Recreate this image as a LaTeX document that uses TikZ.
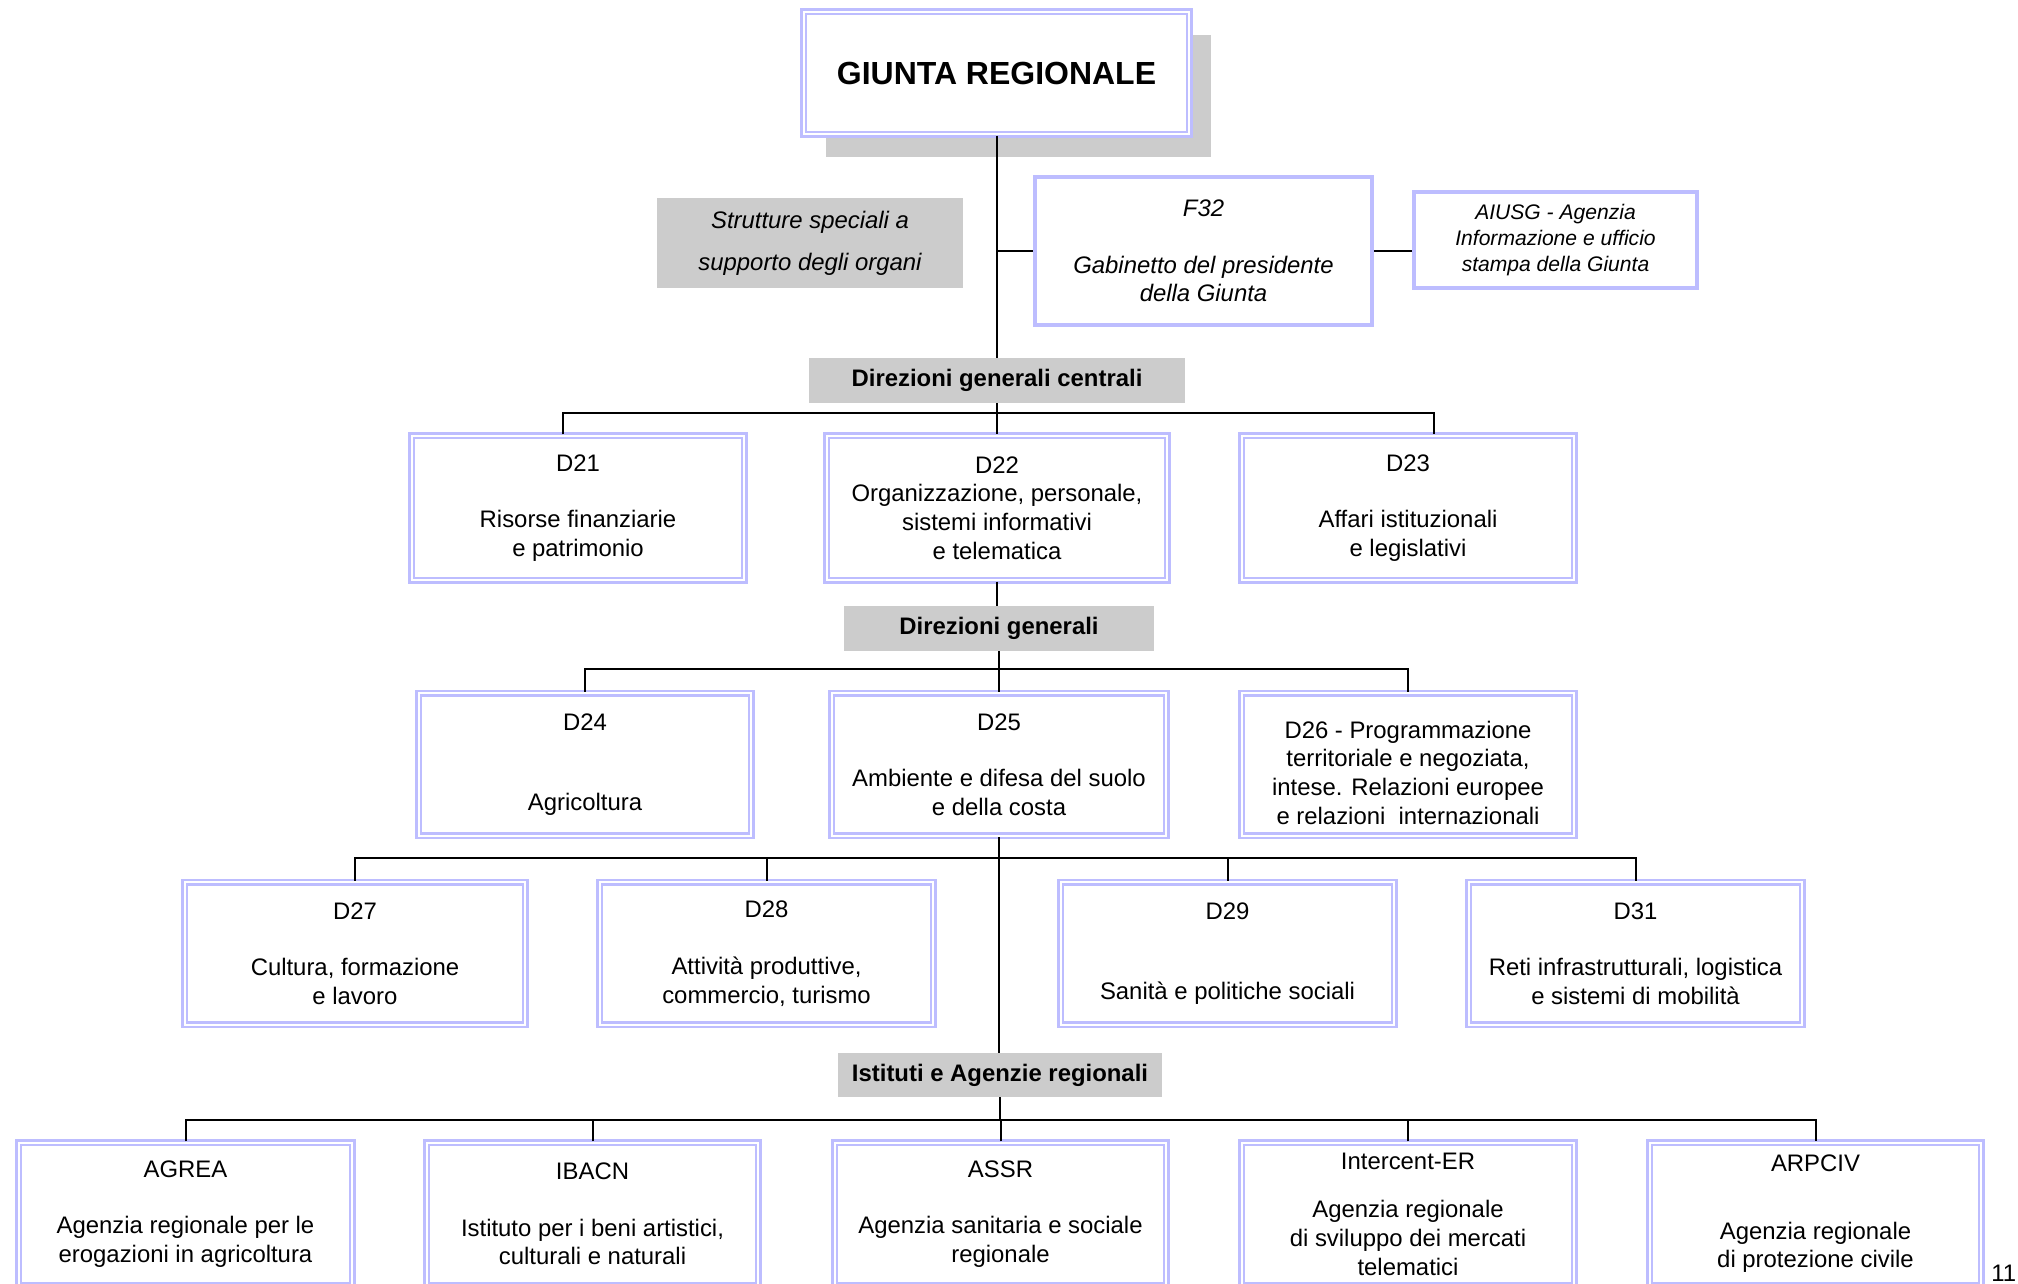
\documentclass[tikz,border=0pt]{standalone}
\usepackage{fontspec}
\setmainfont{Liberation Sans}
\usepackage{xcolor}
\usepackage{tikz}
\usetikzlibrary{positioning, calc, shadows}
\definecolor{boxline}{RGB}{189,189,255}
\definecolor{labelgray}{RGB}{204,204,204}
\definecolor{shadowgray}{RGB}{204,204,204}
\newcommand{\gap}{16pt}
\tikzset{
  orgbox/.style={
    draw=boxline, double=white, line width=0.05cm, double distance=0.04cm,
    fill=white, align=center, inner sep=0pt, minimum width=6.66cm,
    minimum height=2.86cm, font=\fontsize{13.6}{16.3}\selectfont
  },
  topbox/.style={
    orgbox, minimum width=7.72cm, minimum height=2.46cm,
    font=\fontsize{18.2}{21}\selectfont\bfseries,
    drop shadow={shadow xshift=0.44cm, shadow yshift=-0.46cm, fill=shadowgray, opacity=1}
  },
  staffbox/.style={
    draw=boxline, line width=0.07cm, fill=white, align=center, inner sep=0pt,
    font=\fontsize{13.6}{16.3}\selectfont\itshape
  },
  grouplabel/.style={
    fill=labelgray, align=center, inner sep=0pt, minimum height=0.9cm,
    font=\fontsize{13.6}{16}\selectfont\bfseries
  },
  link/.style={
    line width=0.04cm, black
  }
}
\begin{document}
\begin{tikzpicture}[x=0.02cm, y=-0.02cm]
  \useasboundingbox (0,0) rectangle (2018,1284);

  \node[topbox] (giunta) at (996.5,73) {GIUNTA REGIONALE};
  \node[fill=labelgray, minimum width=6.12cm, minimum height=1.8cm, align=center, inner sep=0pt,
        font=\fontsize{13.6}{24}\selectfont\itshape] (strutture) at (810,243)
        {Strutture speciali a\\supporto degli organi};
  \node[staffbox, minimum width=6.75cm, minimum height=2.97cm] (f32) at (1203.5,251)
        {F32\\[\gap]Gabinetto del presidente\\della Giunta};
  \node[staffbox, minimum width=5.67cm, minimum height=1.93cm,
        font=\fontsize{12}{14.8}\selectfont\itshape] (aiusg) at (1555.5,240)
        {AIUSG - Agenzia\\Informazione e ufficio\\stampa della Giunta};

  \node[grouplabel, minimum width=7.54cm] (centrali) at (997,380.5) {Direzioni generali centrali};
  \node[orgbox, minimum height=2.9cm] (d21) at (578,508) {D21\\[\gap]Risorse finanziarie\\e patrimonio};
  \node[orgbox, minimum width=6.82cm, minimum height=2.9cm] (d22) at (997,508)
        {D22\\Organizzazione, personale,\\sistemi informativi\\e telematica};
  \node[orgbox, minimum height=2.9cm] (d23) at (1408,508) {D23\\[\gap]Affari istituzionali\\e legislativi};

  \node[grouplabel, minimum width=6.2cm] (generali) at (999,628.5) {Direzioni generali};
  \node[orgbox] (d24) at (585,764.5) {D24\\[29pt]Agricoltura};
  \node[orgbox, minimum width=6.7cm] (d25) at (999,764.5) {D25\\[\gap]Ambiente e difesa del suolo\\e della costa};
  \node[orgbox] (d26) at (1408,764.5)
        {\rule{0pt}{19pt}D26 - Programmazione\\territoriale e negoziata,\\intese. Relazioni europee\\e relazioni~ internazionali};

  \node[orgbox, minimum width=6.82cm] (d27) at (355,953.5) {D27\\[\gap]Cultura, formazione\\e lavoro};
  \node[orgbox, minimum width=6.68cm] (d28) at (766.5,953.5) {D28\\[\gap]Attività produttive,\\commercio, turismo};
  \node[orgbox, minimum width=6.68cm] (d29) at (1227.5,953.5) {D29\\[29pt]Sanità e politiche sociali};
  \node[orgbox, minimum width=6.68cm] (d31) at (1635.5,953.5) {D31\\[\gap]Reti infrastrutturali, logistica\\e sistemi di mobilità};

  \node[grouplabel, minimum width=6.48cm, minimum height=0.88cm] (istituti) at (1000,1075) {Istituti e Agenzie regionali};
  \node[orgbox, minimum width=6.68cm] (agrea) at (185.5,1214) {AGREA\\[\gap]Agenzia regionale per le\\erogazioni in agricoltura};
  \node[orgbox, minimum width=6.64cm] (ibacn) at (592.5,1214) {IBACN\\[\gap]Istituto per i beni artistici,\\culturali e naturali};
  \node[orgbox, minimum width=6.64cm] (assr) at (1000.5,1214) {ASSR\\[\gap]Agenzia sanitaria e sociale\\regionale};
  \node[orgbox] (intercent) at (1408,1214) {Intercent-ER\\[11.5pt]Agenzia regionale\\di sviluppo dei mercati\\telematici};
  \node[orgbox, minimum width=6.64cm] (arpciv) at (1815.5,1214) {ARPCIV\\[22pt]Agenzia regionale\\di protezione civile};

  \node[anchor=north west, inner sep=0pt, font=\fontsize{13.6}{16}\selectfont] (pagenum) at (1991,1265) {11};

  \coordinate (busA) at (997,413);
  \coordinate (busB) at (999,669);
  \coordinate (busC) at (999,858);
  \coordinate (busD) at (999,1120);

  \draw[link] (giunta.south) -- (giunta.south |- centrali.north);
  \draw[link] (f32.west -| giunta.south) -- (f32.west);
  \draw[link] (f32.east) -- (f32.east -| aiusg.west);
  \draw[link] (centrali.south) -- (centrali.south |- d22.north);
  \draw[link] ($(d21.north)+(-15,0)$) |- (busA) -| ($(d23.north)+(26,0)$);
  \draw[link] (d22.south) -- (d22.south |- generali.north);
  \draw[link] (generali.south) -- (generali.south |- d25.north);
  \draw[link] (d24.north) |- (busB) -| (d26.north);
  \draw[link] (d25.south) -- (d25.south |- istituti.north);
  \draw[link] (d27.north) |- (busC) -| (d31.north);
  \draw[link] (d28.north) |- (busC);
  \draw[link] (d29.north) |- (busC);
  \draw[link] (istituti.south) -- (istituti.south |- busD);
  \draw[link] (agrea.north) |- (busD) -| (arpciv.north);
  \draw[link] (ibacn.north) |- (busD);
  \draw[link] (assr.north) |- (busD);
  \draw[link] (intercent.north) |- (busD);
\end{tikzpicture}
\end{document}
